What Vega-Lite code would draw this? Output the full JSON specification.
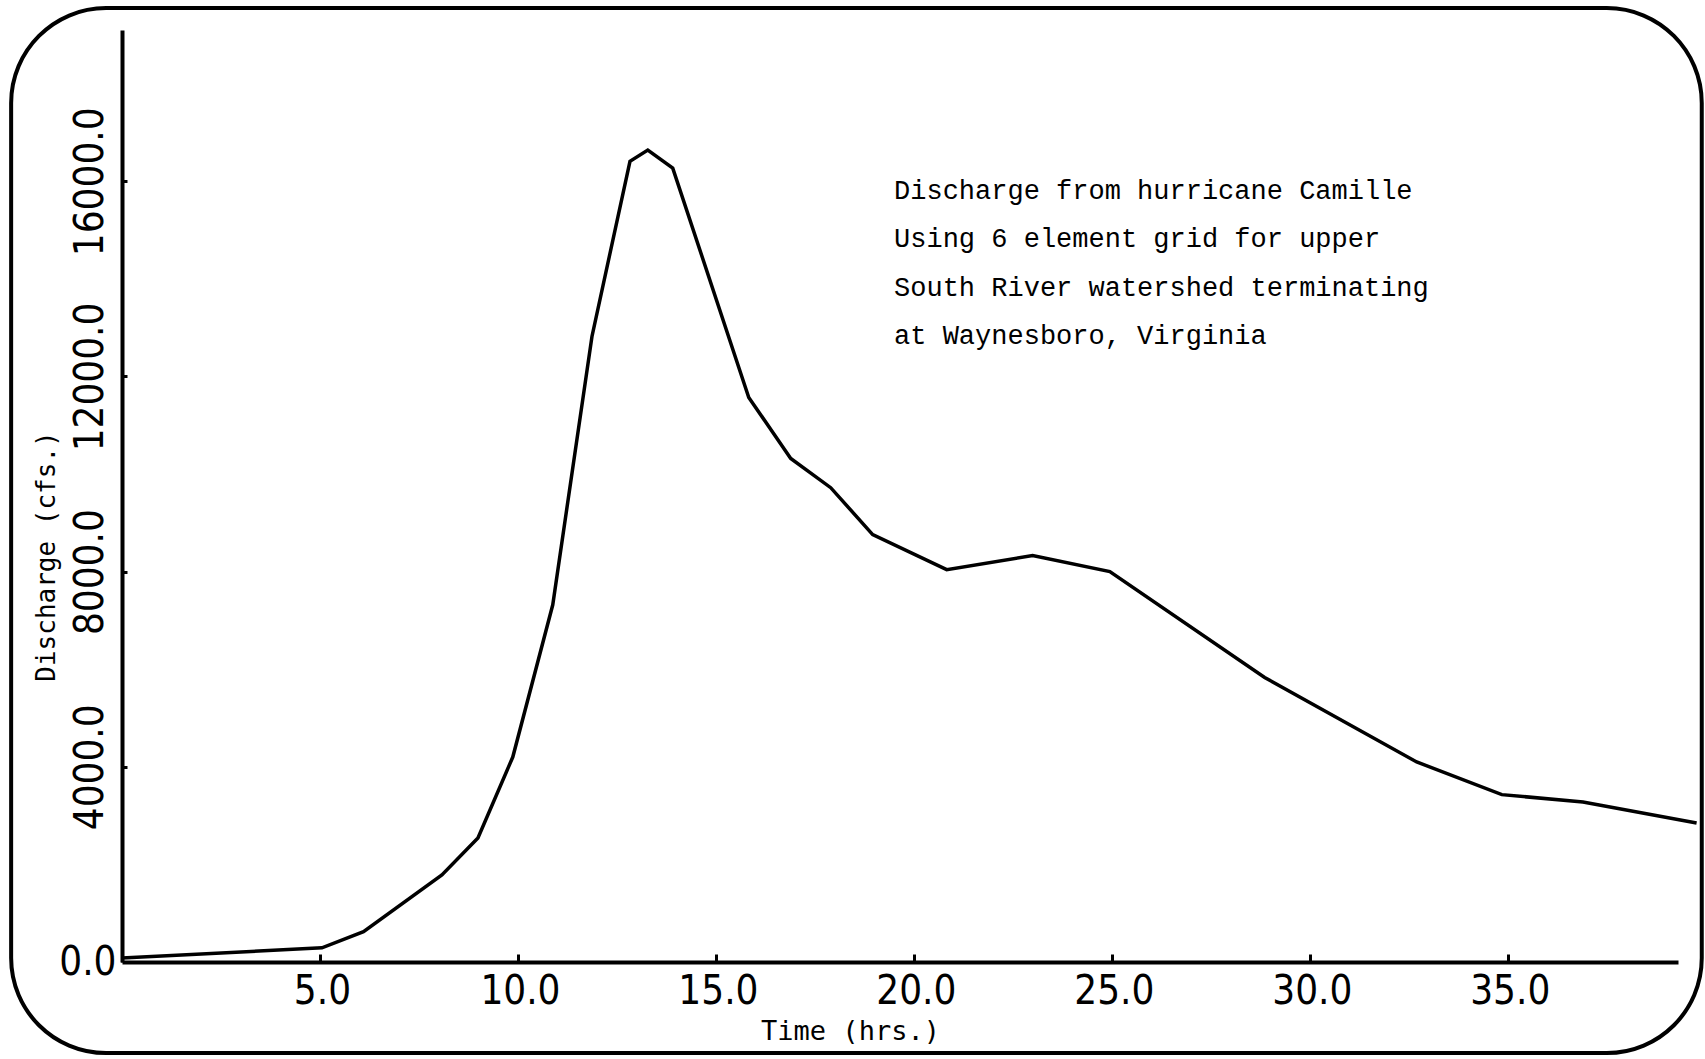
{
  "$schema": "https://vega.github.io/schema/vega-lite/v6.json",
  "autosize": "none",
  "width": 1556,
  "height": 932,
  "padding": {"left": 122, "top": 30, "right": 27, "bottom": 97},
  "background": "white",
  "config": {"view": {"stroke": null}},
  "layer": [
    {
      "data": {"values": [{"frame": "border"}]},
      "mark": {"type": "rect", "fill": "transparent", "stroke": "black", "strokeWidth": 4, "cornerRadius": 95},
      "encoding": {
        "x": {"datum": -2.8, "type": "quantitative"},
        "x2": {"datum": 39.9},
        "y": {"datum": 19549, "type": "quantitative"},
        "y2": {"datum": -1867}
      }
    },
    {
      "data": {"values": [
        {"t": 0, "q": 80},
        {"t": 5.05, "q": 290},
        {"t": 6.1, "q": 620},
        {"t": 8.08, "q": 1785},
        {"t": 8.99, "q": 2540},
        {"t": 9.87, "q": 4200},
        {"t": 10.88, "q": 7320},
        {"t": 11.87, "q": 12820},
        {"t": 12.83, "q": 16410},
        {"t": 13.28, "q": 16640},
        {"t": 13.91, "q": 16270},
        {"t": 15.83, "q": 11570},
        {"t": 16.89, "q": 10320},
        {"t": 17.9, "q": 9720},
        {"t": 18.96, "q": 8760},
        {"t": 20.83, "q": 8040},
        {"t": 23.0, "q": 8330},
        {"t": 24.95, "q": 8000},
        {"t": 28.86, "q": 5830},
        {"t": 32.7, "q": 4100},
        {"t": 34.85, "q": 3430},
        {"t": 36.9, "q": 3280},
        {"t": 39.77, "q": 2850}
      ]},
      "mark": {"type": "line", "color": "black", "strokeWidth": 3.5, "strokeJoin": "miter"},
      "encoding": {
        "x": {
          "field": "t", "type": "quantitative",
          "scale": {"domain": [0, 39.3], "nice": false, "zero": false},
          "axis": {
            "title": "Time (hrs.)",
            "titleFont": "DejaVu Sans Mono", "titleFontSize": 27, "titleFontWeight": "normal", "titleColor": "black",
            "titleX": 728, "titleY": 69, "titleAlign": "center", "titleBaseline": "middle", "titleAnchor": null,
            "values": [0, 5, 10, 15, 20, 25, 30, 35],
            "labelExpr": "format(datum.value, '.1f')",
            "labelFont": "DejaVu Sans Condensed, Liberation Sans, sans-serif", "labelFontSize": 40, "labelColor": "black",
            "labelAlign": {"condition": {"test": "datum.value === 0", "value": "right"}, "value": "center"},
            "labelBaseline": {"condition": {"test": "datum.value === 0", "value": "middle"}, "value": "top"},
            "labelPadding": {"condition": {"test": "datum.value === 0", "value": 8}, "value": 17},
            "labelOffset": {"condition": {"test": "datum.value === 0", "value": -6}, "value": 2},
            "labelFlush": false, "labelOverlap": false,
            "tickSize": -8, "tickWidth": 3, "tickColor": "black",
            "domainColor": "black", "domainWidth": 4, "grid": false
          }
        },
        "y": {
          "field": "q", "type": "quantitative",
          "scale": {"domain": [0, 19100], "nice": false, "zero": false},
          "axis": {
            "title": "Discharge (cfs.)",
            "titleFont": "DejaVu Sans Mono", "titleFontSize": 26, "titleFontWeight": "normal", "titleColor": "black",
            "titleAngle": -90, "titleX": -76, "titleY": 526, "titleAlign": "center", "titleBaseline": "middle", "titleAnchor": null,
            "values": [4000, 8000, 12000, 16000],
            "labelExpr": "format(datum.value, '.1f')",
            "labelFont": "DejaVu Sans Condensed, Liberation Sans, sans-serif", "labelFontSize": 40, "labelColor": "black",
            "labelAngle": -90, "labelAlign": "center", "labelBaseline": "alphabetic",
            "labelPadding": 25, "labelFlush": false, "labelOverlap": false,
            "tickSize": -5, "tickWidth": 3, "tickColor": "black",
            "domainColor": "black", "domainWidth": 4, "grid": false
          }
        }
      }
    },
    {
      "data": {"values": [
        {"t": 19.5, "q": 15800, "label": "Discharge from hurricane Camille"},
        {"t": 19.5, "q": 14810, "label": "Using 6 element grid for upper"},
        {"t": 19.5, "q": 13805, "label": "South River watershed terminating"},
        {"t": 19.5, "q": 12820, "label": "at Waynesboro, Virginia"}
      ]},
      "mark": {"type": "text", "align": "left", "baseline": "middle", "font": "Liberation Mono", "fontSize": 27, "color": "black"},
      "encoding": {
        "x": {"field": "t", "type": "quantitative"},
        "y": {"field": "q", "type": "quantitative"},
        "text": {"field": "label"}
      }
    }
  ]
}
